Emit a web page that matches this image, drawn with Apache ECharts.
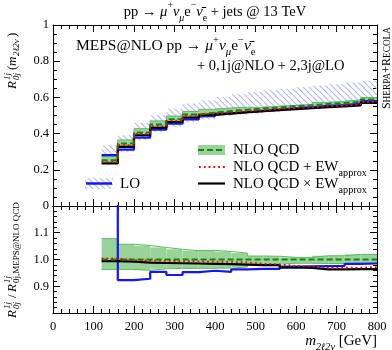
<!DOCTYPE html>
<html><head><meta charset="utf-8">
<script src="https://cdn.jsdelivr.net/npm/echarts@6/dist/echarts.min.js"></script>
<style>html,body{margin:0;padding:0;background:#fff}#c{width:392px;height:350px}</style>
</head><body><div id="c"></div>
<script>
// ---- data ----
const binEdges = [120,160,200,240,280,320,360,400,440,480,520,560,600,640,680,720,760,800];
const xTicks = [0,100,200,300,400,500,600,700,800];
const upperYTicks = [0,0.2,0.4,0.6,0.8,1];
const lowerYTicks = [0.9,1.0,1.1];

// upper panel
const loBandLow  = [0.244,0.299,0.364,0.410,0.437,0.464,0.478,0.496,0.503,0.510,0.518,0.527,0.535,0.545,0.552,0.562,0.572];
const loBandHigh = [0.336,0.391,0.459,0.501,0.538,0.566,0.584,0.602,0.618,0.630,0.640,0.648,0.657,0.665,0.673,0.682,0.692];
const loVal      = [0.281,0.312,0.378,0.422,0.455,0.479,0.496,0.510,0.518,0.525,0.532,0.540,0.546,0.553,0.558,0.566,0.580];
const nloVal     = [0.253,0.345,0.406,0.450,0.479,0.505,0.516,0.525,0.532,0.538,0.544,0.552,0.556,0.564,0.569,0.575,0.588];
const nloLow     = [0.244,0.332,0.390,0.434,0.463,0.488,0.499,0.508,0.517,0.528,0.535,0.544,0.548,0.556,0.560,0.567,0.580];
const nloHigh    = [0.273,0.365,0.427,0.470,0.497,0.522,0.534,0.541,0.545,0.545,0.551,0.556,0.560,0.572,0.577,0.586,0.599];
const nloPlusEw  = [0.242,0.336,0.399,0.441,0.471,0.497,0.509,0.518,0.525,0.530,0.536,0.541,0.546,0.551,0.556,0.562,0.576];
const nloTimesEw = [0.235,0.327,0.391,0.432,0.464,0.489,0.503,0.512,0.518,0.524,0.530,0.535,0.540,0.546,0.550,0.556,0.570];

// lower panel (ratio to NLO QCD)
const rLo        = [1.30,0.923,0.928,0.954,0.942,0.953,0.958,0.954,0.963,0.965,0.965,0.973,0.974,0.975,0.976,0.984,0.985];
const rNlo       = [1,1,1,1,1,1,1,1,1,1,1,1,1,1,1,1,1];
const rNloLow    = [0.963,0.963,0.960,0.965,0.967,0.967,0.967,0.968,0.972,0.982,0.983,0.986,0.986,0.985,0.985,0.986,0.986];
const rNloHigh   = [1.078,1.057,1.052,1.045,1.038,1.033,1.034,1.030,1.024,1.013,1.012,1.008,1.008,1.014,1.014,1.019,1.019];
const rPlusEw    = [1.004,0.998,0.996,0.995,0.994,0.993,0.992,0.991,0.989,0.984,0.982,0.976,0.975,0.969,0.969,0.970,0.972];
const rTimesEw   = [0.994,0.992,0.988,0.987,0.986,0.985,0.984,0.983,0.981,0.979,0.979,0.970,0.969,0.963,0.963,0.964,0.964];

// ---- styling ----
const F = "'Liberation Serif','DejaVu Serif',serif";
const BLUE = '#1414ff', GREEN_FILL = '#98d498', GREEN_EDGE = '#62b962', GREEN_DASH = '#128412', RED = '#ff0000';
const HATCH = '#b3b7f6';

const hc = document.createElement('canvas');
hc.width = 6; hc.height = 6;
(function(){const g = hc.getContext('2d'); g.strokeStyle = HATCH; g.lineWidth = 1.1;
 g.beginPath(); g.moveTo(-1,-1); g.lineTo(7,7); g.moveTo(-1,5); g.lineTo(1,7); g.moveTo(5,-1); g.lineTo(7,1); g.stroke();})();
const hatchFill = {image: hc, repeat: 'repeat'};

function stepData(vals){ const d = vals.map((v,i)=>[binEdges[i], v]); d.push([binEdges[vals.length], vals[vals.length-1]]); return d; }
function bandData(lo, hi){ return lo.map((v,i)=>[binEdges[i], binEdges[i+1], v, hi[i]]); }

function band(lo, hi, fill, gi){
  return {type:'custom', xAxisIndex: gi*2, yAxisIndex: gi*2, clip:true, silent:true,
    data: bandData(lo, hi), encode:{x:[0,1], y:[2,3]},
    renderItem: function(params, api){
      const p0 = api.coord([api.value(0), api.value(3)]);
      const p1 = api.coord([api.value(1), api.value(2)]);
      return {type:'rect', shape:{x:p0[0], y:p0[1], width:p1[0]-p0[0], height:p1[1]-p0[1]}, style:{fill: fill}};
    }};
}
function line(vals, color, width, dash, gi, z){
  return {type:'line', xAxisIndex: gi*2, yAxisIndex: gi*2, step:'end', data: stepData(vals), symbol:'none', clip:true, silent:true, z: z||2,
    lineStyle:{color: color, width: width, type: dash || 'solid', cap:'butt'}};
}

function xAx(gi, pos, labels){
  return {type:'value', gridIndex: gi, position: pos, min: xTicks[0], max: xTicks[xTicks.length-1], interval: xTicks[1]-xTicks[0],
    axisLine:{show:true, onZero:false, lineStyle:{color:'#000', width:1}},
    axisTick:{show:true, inside:true, length:7, lineStyle:{color:'#000'}},
    minorTick:{show:true, splitNumber:5, length:4, lineStyle:{color:'#000'}},
    splitLine:{show:false},
    axisLabel:{show: labels, margin: 7, fontFamily: F, fontSize: 12.5, color:'#000'}};
}
function yAx(gi, pos, min, max, interval, minor, labels, fmt){
  return {type:'value', gridIndex: gi, position: pos, min: min, max: max, interval: interval,
    axisLine:{show:true, onZero:false, lineStyle:{color:'#000', width:1}},
    axisTick:{show:true, inside:true, length:7, lineStyle:{color:'#000'}},
    minorTick:{show:true, splitNumber:minor, length:4, lineStyle:{color:'#000'}},
    splitLine:{show:false},
    axisLabel:{show: labels, margin: 4, fontFamily: F, fontSize: 12.5, color:'#000', formatter: fmt}};
}
const fmtUpper = v => { const r = Math.round(v*10)/10; if (!upperYTicks.some(t=>Math.abs(t-r)<1e-6)) return ''; return (r===0||r===1) ? String(r) : r.toFixed(1); };
const fmtLower = v => { const r = Math.round(v*10)/10; return lowerYTicks.some(t=>Math.abs(t-r)<1e-6) ? r.toFixed(1) : ''; };

// rich text styles
function mk(size){
  return {
    n:  {fontFamily:F, fontSize:size, lineHeight:size+8, fill:'#000'},
    i:  {fontFamily:F, fontSize:size, lineHeight:size+8, fontStyle:'italic', fill:'#000'},
    sp: {fontFamily:F, fontSize:size*0.68, lineHeight:size*0.72, verticalAlign:'top', fill:'#000'},
    sb: {fontFamily:F, fontSize:size*0.68, lineHeight:size*0.72, verticalAlign:'bottom', fill:'#000'},
    sbi:{fontFamily:F, fontSize:size*0.68, lineHeight:size*0.72, verticalAlign:'bottom', fontStyle:'italic', fill:'#000'},
    L:  {fontFamily:F, fontSize:12, lineHeight:13, verticalAlign:'bottom', fill:'#000'},
    S:  {fontFamily:F, fontSize:9.3, lineHeight:10.5, verticalAlign:'bottom', fill:'#000'}
  };
}
function txt(x, y, text, align, size, extra){
  return Object.assign({type:'text', x:x, y:y, z:100, style:{text:text, rich:mk(size||14), textAlign:align||'left', textVerticalAlign:'middle', fill:'#000'}}, extra||{});
}
function t(x, y, s, size, italic){
  return {type:'text', x:x, y:y, style:{text:s, fontFamily:F, fontSize:size, fontStyle: italic?'italic':'normal', fill:'#000', textAlign:'left', textVerticalAlign:'middle'}};
}
const nubar = 'ν\u0304';

const graphic = [
  txt(215, 12, '{n|pp → }{i|μ}{sp|+}{i|ν}{sbi|μ}{n|e}{sp|−}{i|'+nubar+'}{sb|e}{n| + jets @ 13 TeV}', 'center', 14.5),
  txt(76, 46, '{n|MEPS@NLO pp → }{i|μ}{sp|+}{i|ν}{sbi|μ}{n|e}{sp|−}{i|'+nubar+'}{sb|e}', 'left', 15.5),
  txt(197, 66, '{n|+ 0,1j@NLO + 2,3j@LO}', 'left', 14.5),
  txt(386, 27, '{L|S}{S|HERPA}{L|+R}{S|ECOLA}', 'right', 14, {rotation: Math.PI/2}),
  // upper y title
  {type:'group', x:13, y:89, rotation: Math.PI/2, z:100, children:[
    t(0,0,'R',13,true), t(9,-5,'1j',9,true), t(9,4,'0j',9,true), t(19,0,'(',13,false), t(23,0,'m',13,true), t(33,4,'2ℓ2ν',9,true), t(52,0,')',13,false)
  ]},
  // lower y title
  {type:'group', x:13, y:318, rotation: Math.PI/2, z:100, children:[
    t(0,0,'R',13,true), t(9,-5,'1j',9,true), t(9,4,'0j',9,true), t(20,0,'/',13,false), t(26,0,'R',13,true), t(35,-5,'1j',9,true), t(35,4,'0j,MEPS@NLO QCD',9,false)
  ]},
  // x title
  txt(377, 341, '{i|m}{sbi|2ℓ2ν}{n| [GeV]}', 'right', 15),
  // legends
  {type:'rect', shape:{x:85, y:178, width:28, height:11}, style:{fill: hatchFill}, z:50},
  {type:'line', shape:{x1:86, y1:183.5, x2:112, y2:183.5}, style:{stroke: BLUE, lineWidth: 2.5}, z:51},
  txt(120, 184, '{n|LO}', 'left', 15),
  {type:'rect', shape:{x:198, y:145, width:27, height:10}, style:{fill: GREEN_FILL}, z:50},
  {type:'line', shape:{x1:198, y1:150, x2:225, y2:150}, style:{stroke: GREEN_DASH, lineWidth: 2, lineDash:[6,3]}, z:51},
  txt(233, 150, '{n|NLO QCD}', 'left', 15),
  {type:'line', shape:{x1:199, y1:167, x2:225, y2:167}, style:{stroke: RED, lineWidth: 1.8, lineDash:[1.8,3]}, z:51},
  txt(233, 167, '{n|NLO QCD + EW}{sb|approx}', 'left', 15),
  {type:'line', shape:{x1:198, y1:183.5, x2:225, y2:183.5}, style:{stroke: '#000', lineWidth: 2.2}, z:51},
  txt(233, 184, '{n|NLO QCD × EW}{sb|approx}', 'left', 15)
];

const option = {
  animation: false,
  backgroundColor: '#fff',
  grid: [
    {left: 53, right: 15, top: 25, height: 181},
    {left: 53, right: 15, top: 206, height: 107}
  ],
  xAxis: [xAx(0,'bottom',false), xAx(0,'top',false), xAx(1,'bottom',true), xAx(1,'top',false)],
  yAxis: [
    yAx(0,'left',0,1,0.2,4,true,fmtUpper), yAx(0,'right',0,1,0.2,4,false),
    yAx(1,'left',0.8,1.2,0.1,5,true,fmtLower), yAx(1,'right',0.8,1.2,0.1,5,false)
  ],
  series: [
    band(loBandLow, loBandHigh, hatchFill, 0),
    band(nloLow, nloHigh, GREEN_FILL, 0),
    line(nloLow, GREEN_EDGE, 1, 'solid', 0),
    line(nloHigh, GREEN_EDGE, 1, 'solid', 0),
    line(loVal, BLUE, 2.2, 'solid', 0, 3),
    line(nloTimesEw, '#000', 2.2, 'solid', 0, 4),
    line(nloVal, GREEN_DASH, 2, [6,3], 0, 5),
    line(nloPlusEw, RED, 1.8, [1.8,3], 0, 6),

    band(rNloLow, rNloHigh, GREEN_FILL, 1),
    line(rNloLow, GREEN_EDGE, 1, 'solid', 1),
    line(rNloHigh, GREEN_EDGE, 1, 'solid', 1),
    line(rLo, BLUE, 2.2, 'solid', 1, 3),
    line(rTimesEw, '#000', 2.2, 'solid', 1, 4),
    line(rNlo, GREEN_DASH, 2, [6,3], 1, 5),
    line(rPlusEw, RED, 1.8, [1.8,3], 1, 6)
  ],
  graphic: graphic
};
const chart = echarts.init(document.getElementById('c'), null, {renderer:'canvas'});
chart.setOption(option);
</script></body></html>
